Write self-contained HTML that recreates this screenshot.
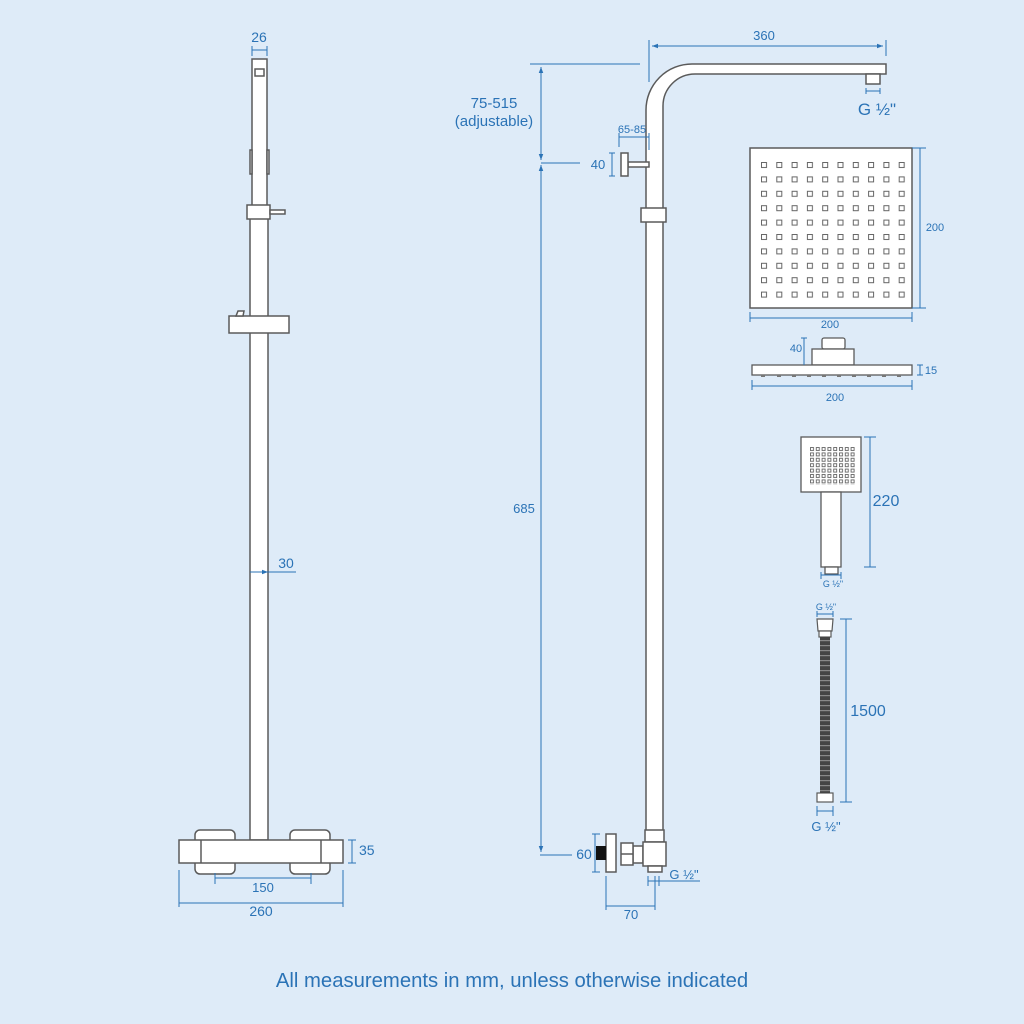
<!DOCTYPE html>
<html><head><meta charset="utf-8"><style>
html,body{margin:0;padding:0;background:#deebf8;}
svg{display:block}
text{font-family:"Liberation Sans",sans-serif;fill:#2b73b6;}
</style></head><body>
<svg width="1024" height="1024" viewBox="0 0 1024 1024" xmlns="http://www.w3.org/2000/svg">
<defs>
<pattern id="h1" x="761" y="162" width="15.3" height="14.4" patternUnits="userSpaceOnUse"><rect x="0.5" y="0.5" width="5" height="5" fill="none" stroke="#666" stroke-width="1"/></pattern>
<pattern id="h2" x="810" y="447" width="5.8" height="5.4" patternUnits="userSpaceOnUse"><rect x="0.5" y="0.5" width="3" height="3" fill="none" stroke="#666" stroke-width="0.9"/></pattern>
<pattern id="hose" x="0" y="637" width="10" height="5" patternUnits="userSpaceOnUse"><rect width="10" height="5" fill="#444"/><rect y="3" width="10" height="1.2" fill="#888"/></pattern>
<marker id="a" viewBox="0 0 8 8" refX="8" refY="4" markerWidth="6" markerHeight="6" orient="auto-start-reverse"><path d="M0,1 L8,4 L0,7z" fill="#2b73b6"/></marker>
</defs>
<rect width="1024" height="1024" fill="#deebf8"/>

<g fill="#fff" stroke="#5a5a5a" stroke-width="1.5">
<rect x="252" y="59" width="15" height="150"/>
<rect x="255" y="69" width="9" height="7"/>
<rect x="250" y="150" width="2" height="24"/><rect x="267" y="150" width="2" height="24"/>
<rect x="250" y="218" width="18" height="622"/>
<rect x="247" y="205" width="23" height="14"/>
<rect x="270" y="210" width="15" height="4"/>
<rect x="229" y="316" width="60" height="17"/>
<path d="M236,316 l2,-5 h6 l-1,5z"/>
<rect x="195" y="830" width="40" height="44" rx="5"/>
<rect x="290" y="830" width="40" height="44" rx="5"/>
<rect x="179" y="840" width="164" height="23"/>
<line x1="201" y1="840" x2="201" y2="863"/><line x1="321" y1="840" x2="321" y2="863"/>

<path d="M646,845 V110 A46,46 0 0 1 692,64 H886 V74 H695 A32,32 0 0 0 663,106 V845 Z"/>
<rect x="866" y="74" width="14" height="10"/>
<rect x="641" y="208" width="25" height="14"/>
<rect x="628" y="162" width="21" height="5"/>
<rect x="621" y="153" width="7" height="23"/>
<rect x="645" y="830" width="19" height="12"/>
<rect x="633" y="846" width="10" height="17"/>
<rect x="643" y="842" width="23" height="24"/>
<rect x="648" y="866" width="14" height="6"/>
<rect x="621" y="843" width="12" height="22"/>
<line x1="621" y1="854" x2="633" y2="854"/>
<rect x="606" y="834" width="10" height="38"/>
</g>
<rect x="596" y="846" width="10" height="14" fill="#111"/>

<rect x="750" y="148" width="162" height="160" fill="#fff" stroke="#5a5a5a" stroke-width="1.5"/>
<rect x="761" y="162" width="145" height="140" fill="url(#h1)"/>
<g fill="#fff" stroke="#5a5a5a" stroke-width="1.3">
<rect x="822" y="338" width="23" height="11" rx="2"/>
<rect x="812" y="349" width="42" height="16"/>
<rect x="752" y="365" width="160" height="10"/>
</g>
<g fill="#777">
<rect x="761" y="375" width="4" height="2"/><rect x="777" y="375" width="4" height="2"/><rect x="792" y="375" width="4" height="2"/><rect x="807" y="375" width="4" height="2"/><rect x="822" y="375" width="4" height="2"/><rect x="837" y="375" width="4" height="2"/><rect x="852" y="375" width="4" height="2"/><rect x="867" y="375" width="4" height="2"/><rect x="882" y="375" width="4" height="2"/><rect x="897" y="375" width="4" height="2"/>
</g>
<g fill="#fff" stroke="#5a5a5a" stroke-width="1.3">
<rect x="801" y="437" width="60" height="55"/>
<rect x="821" y="492" width="20" height="75"/>
<rect x="825" y="567" width="13" height="7"/>
</g>
<rect x="810" y="447" width="45" height="38" fill="url(#h2)"/>
<g fill="#fff" stroke="#5a5a5a" stroke-width="1.2">
<path d="M817,619 h16 l-1,12 h-14z"/>
<rect x="819" y="631" width="12" height="6"/>
<rect x="817" y="793" width="16" height="9"/>
</g>
<rect x="820" y="637" width="10" height="156" fill="url(#hose)"/>

<g stroke="#2b73b6" stroke-width="1" fill="none">
<line x1="252" y1="46" x2="252" y2="56"/><line x1="267" y1="46" x2="267" y2="56"/><line x1="252" y1="50" x2="267" y2="50"/>
<line x1="250" y1="572" x2="268" y2="572" marker-end="url(#a)"/><line x1="268" y1="572" x2="296" y2="572"/>
<line x1="348" y1="840" x2="356" y2="840"/><line x1="348" y1="863" x2="356" y2="863"/><line x1="352" y1="840" x2="352" y2="863"/>
<line x1="215" y1="873" x2="215" y2="884"/><line x1="311" y1="873" x2="311" y2="884"/><line x1="215" y1="878" x2="311" y2="878"/>
<line x1="179" y1="870" x2="179" y2="907"/><line x1="343" y1="870" x2="343" y2="907"/><line x1="179" y1="903" x2="343" y2="903"/>
<line x1="649" y1="40" x2="649" y2="82"/><line x1="886" y1="40" x2="886" y2="56"/><line x1="652" y1="46" x2="883" y2="46" marker-start="url(#a)" marker-end="url(#a)"/>
<line x1="866" y1="88" x2="866" y2="94"/><line x1="880" y1="88" x2="880" y2="94"/><line x1="866" y1="91" x2="880" y2="91"/>
<line x1="530" y1="64" x2="640" y2="64"/>
<line x1="541" y1="67" x2="541" y2="160" marker-start="url(#a)" marker-end="url(#a)"/>
<line x1="541" y1="165" x2="541" y2="852" marker-start="url(#a)" marker-end="url(#a)"/>
<line x1="541" y1="163" x2="580" y2="163"/>
<line x1="540" y1="855" x2="572" y2="855"/>
<line x1="619" y1="133" x2="619" y2="147"/><line x1="649" y1="133" x2="649" y2="150"/><line x1="619" y1="137" x2="649" y2="137"/>
<line x1="609" y1="153" x2="615" y2="153"/><line x1="609" y1="176" x2="615" y2="176"/><line x1="612" y1="153" x2="612" y2="176"/>
<line x1="592" y1="834" x2="600" y2="834"/><line x1="592" y1="872" x2="600" y2="872"/><line x1="595" y1="834" x2="595" y2="872"/>
<line x1="606" y1="876" x2="606" y2="910"/><line x1="655" y1="876" x2="655" y2="910"/><line x1="606" y1="906" x2="655" y2="906"/>
<line x1="648" y1="876" x2="648" y2="886"/><line x1="659" y1="876" x2="659" y2="886"/><line x1="648" y1="881" x2="700" y2="881"/>
<line x1="912" y1="148" x2="926" y2="148"/><line x1="912" y1="308" x2="926" y2="308"/><line x1="920" y1="148" x2="920" y2="308"/>
<line x1="750" y1="312" x2="750" y2="322"/><line x1="912" y1="312" x2="912" y2="322"/><line x1="750" y1="318" x2="912" y2="318"/>
<line x1="801" y1="338" x2="807" y2="338"/><line x1="804" y1="338" x2="804" y2="365"/>
<line x1="917" y1="365" x2="923" y2="365"/><line x1="917" y1="375" x2="923" y2="375"/><line x1="920" y1="365" x2="920" y2="375"/>
<line x1="752" y1="380" x2="752" y2="390"/><line x1="912" y1="380" x2="912" y2="390"/><line x1="752" y1="386" x2="912" y2="386"/>
<line x1="864" y1="437" x2="876" y2="437"/><line x1="864" y1="567" x2="876" y2="567"/><line x1="870" y1="437" x2="870" y2="567"/>
<line x1="821" y1="572" x2="821" y2="579"/><line x1="841" y1="572" x2="841" y2="579"/><line x1="821" y1="575" x2="841" y2="575"/>
<line x1="817" y1="611" x2="817" y2="617"/><line x1="833" y1="611" x2="833" y2="617"/><line x1="817" y1="614" x2="833" y2="614"/>
<line x1="840" y1="619" x2="852" y2="619"/><line x1="840" y1="802" x2="852" y2="802"/><line x1="846" y1="619" x2="846" y2="802"/>
<line x1="817" y1="806" x2="817" y2="816"/><line x1="833" y1="806" x2="833" y2="816"/><line x1="817" y1="811" x2="833" y2="811"/>
</g>

<g font-size="13">
<text x="259" y="42" text-anchor="middle" font-size="14">26</text>
<text x="286" y="568" text-anchor="middle" font-size="14">30</text>
<text x="359" y="855" font-size="14">35</text>
<text x="263" y="892" text-anchor="middle">150</text>
<text x="261" y="916" text-anchor="middle" font-size="14">260</text>
<text x="764" y="40" text-anchor="middle">360</text>
<text x="877" y="115" text-anchor="middle" font-size="17">G ½"</text>
<text x="494" y="108" text-anchor="middle" font-size="15">75-515</text>
<text x="494" y="126" text-anchor="middle" font-size="15">(adjustable)</text>
<text x="632" y="133" text-anchor="middle" font-size="11">65-85</text>
<text x="598" y="169" text-anchor="middle">40</text>
<text x="524" y="513" text-anchor="middle">685</text>
<text x="584" y="859" text-anchor="middle" font-size="14">60</text>
<text x="684" y="879" text-anchor="middle" font-size="13">G ½"</text>
<text x="631" y="919" text-anchor="middle">70</text>
<text x="935" y="231" text-anchor="middle" font-size="11">200</text>
<text x="830" y="328" text-anchor="middle" font-size="11">200</text>
<text x="796" y="352" text-anchor="middle" font-size="11">40</text>
<text x="931" y="374" text-anchor="middle" font-size="11">15</text>
<text x="835" y="401" text-anchor="middle" font-size="11">200</text>
<text x="886" y="506" text-anchor="middle" font-size="16">220</text>
<text x="833" y="587" text-anchor="middle" font-size="9">G ½"</text>
<text x="826" y="610" text-anchor="middle" font-size="9">G ½"</text>
<text x="868" y="716" text-anchor="middle" font-size="16">1500</text>
<text x="826" y="831" text-anchor="middle" font-size="13">G ½"</text>
<text x="512" y="987" text-anchor="middle" font-size="20.3">All measurements in mm, unless otherwise indicated</text>
</g>
</svg>
</body></html>
